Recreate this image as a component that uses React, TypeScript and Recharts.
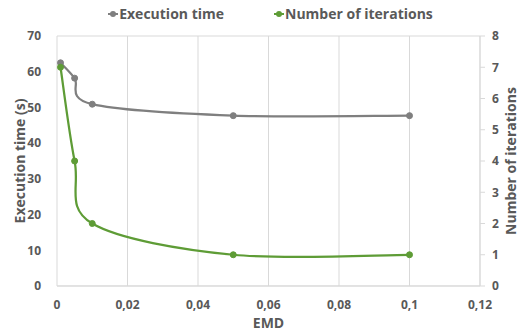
import React from 'react';
import { ComposedChart, Line, XAxis, YAxis, CartesianGrid, Legend, Label } from 'recharts';

const emd = [0.001, 0.005, 0.01, 0.05, 0.1];
const executionTime = [62.5, 58.2, 50.9, 47.7, 47.7];
const iterations = [7, 4, 2, 1, 1];
const xTicks = [0, 0.02, 0.04, 0.06, 0.08, 0.1, 0.12];
const leftTicks = [0, 10, 20, 30, 40, 50, 60, 70];
const rightTicks = [0, 1, 2, 3, 4, 5, 6, 7, 8];

const data = emd.map((x, i) => ({ emd: x, time: executionTime[i], iter: iterations[i] }));

const GRAY = '#7f7f7f';
const GREEN = '#5e9c36';
const TEXT = '#595959';
const GRID = '#d9d9d9';
const FONT = '"Open Sans", sans-serif';

// Excel-style smoothed line: cubic bezier with 1/6 Catmull-Rom tangents
const excelCurve = (context: any) => {
  let pts: number[][] = [];
  return {
    areaStart() {},
    areaEnd() {},
    lineStart() {
      pts = [];
    },
    point(x: number, y: number) {
      pts.push([+x, +y]);
    },
    lineEnd() {
      const n = pts.length;
      if (!n) return;
      context.moveTo(pts[0][0], pts[0][1]);
      for (let i = 0; i < n - 1; i++) {
        const p0 = pts[Math.max(i - 1, 0)];
        const p1 = pts[i];
        const p2 = pts[i + 1];
        const p3 = pts[Math.min(i + 2, n - 1)];
        context.bezierCurveTo(
          p1[0] + (p2[0] - p0[0]) / 6,
          p1[1] + (p2[1] - p0[1]) / 6,
          p2[0] - (p3[0] - p1[0]) / 6,
          p2[1] - (p3[1] - p1[1]) / 6,
          p2[0],
          p2[1]
        );
      }
    },
  };
};

const fmt = (v: number) => String(v).replace('.', ',');

const LegendContent = () => (
  <div style={{ display: 'flex', justifyContent: 'center', gap: 50, fontFamily: FONT, fontSize: 14, fontWeight: 700, color: TEXT, paddingLeft: 22 }}>
    {[
      { name: 'Execution time', color: GRAY },
      { name: 'Number of iterations', color: GREEN },
    ].map((it) => (
      <div key={it.name} style={{ display: 'flex', alignItems: 'center' }}>
        <svg width={10} height={8} style={{ marginRight: 1 }}>
          <line x1={0} y1={4} x2={10} y2={4} stroke={it.color} strokeWidth={2} />
          <circle cx={5} cy={4} r={3} fill={it.color} />
        </svg>
        <span>{it.name}</span>
      </div>
    ))}
  </div>
);

const tickStyle = { fill: TEXT, fontSize: 12, fontWeight: 700, fontFamily: FONT };
const labelStyle = { fill: TEXT, fontSize: 14, fontWeight: 700, fontFamily: FONT, textAnchor: 'middle' as const };

export default function App() {
  return (
    <div style={{ position: 'fixed', left: 0, top: 0, width: 519, height: 333, background: '#fff' }}>
      <ComposedChart width={519} height={333} data={data} margin={{ top: 8, right: 0, bottom: 0, left: 0 }}>
        <Legend verticalAlign="top" content={<LegendContent />} wrapperStyle={{ top: 4, height: 28 }} />
        <CartesianGrid stroke={GRID} strokeWidth={1} />
        <XAxis
          dataKey="emd"
          type="number"
          domain={[0, 0.12]}
          ticks={xTicks}
          tickFormatter={fmt}
          axisLine={{ stroke: GRID }}
          tickLine={false}
          tick={tickStyle}
          tickMargin={8}
          height={47}
        >
          <Label value="EMD" position="insideBottom" offset={5} style={labelStyle} />
        </XAxis>
        <YAxis
          yAxisId="left"
          domain={[0, 70]}
          ticks={leftTicks}
          axisLine={false}
          tickLine={false}
          tick={tickStyle}
          tickMargin={10}
          width={57}
        >
          <Label value="Execution time (s)" angle={-90} position="center" dx={-8} style={labelStyle} />
        </YAxis>
        <YAxis
          yAxisId="right"
          orientation="right"
          domain={[0, 8]}
          ticks={rightTicks}
          axisLine={{ stroke: GRID }}
          tickLine={{ stroke: GRID }}
          tickSize={5}
          tick={tickStyle}
          tickMargin={7}
          width={39}
        >
          <Label value="Number of iterations" angle={-90} position="center" dx={12} style={labelStyle} />
        </YAxis>
        <Line
          yAxisId="left"
          dataKey="time"
          type={excelCurve as any}
          stroke={GRAY}
          strokeWidth={2.25}
          dot={{ r: 3, fill: GRAY, stroke: GRAY, strokeWidth: 1 }}
          isAnimationActive={false}
        />
        <Line
          yAxisId="right"
          dataKey="iter"
          type={excelCurve as any}
          stroke={GREEN}
          strokeWidth={2.25}
          dot={{ r: 3, fill: GREEN, stroke: GREEN, strokeWidth: 1 }}
          isAnimationActive={false}
        />
      </ComposedChart>
    </div>
  );
}
